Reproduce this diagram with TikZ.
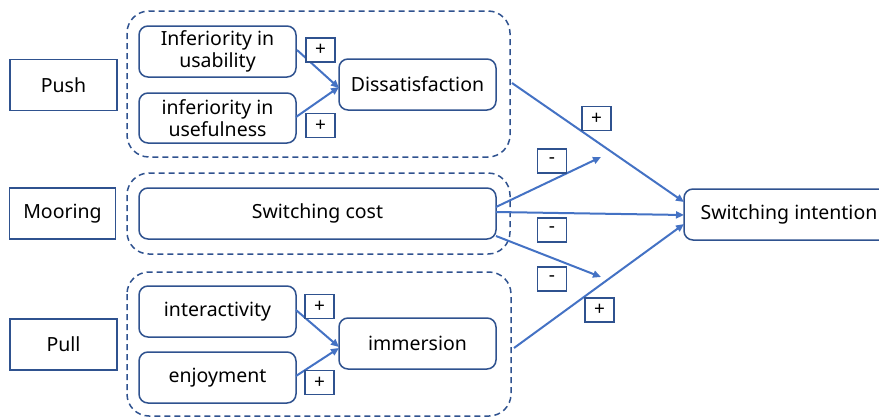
\documentclass[tikz,border=0pt]{standalone}
\usepackage{fontspec}
\setmainfont{Noto Sans}
\usetikzlibrary{arrows.meta}
\definecolor{boxc}{HTML}{2F528F}
\definecolor{arrc}{HTML}{4472C4}
\tikzset{
  sqbox/.style={draw=boxc, line width=1.5pt, fill=white, inner sep=0pt, align=center, font=\fontsize{19.5}{22}\selectfont},
  rbox/.style={sqbox, rounded corners=9pt},
  sign/.style={draw=boxc, line width=1.5pt, fill=white, inner sep=0pt, minimum width=29pt, minimum height=24pt, font=\fontsize{19}{19}\selectfont},
  grp/.style={draw=boxc, line width=1.5pt, dash pattern=on 6pt off 4pt, rounded corners=22pt},
  arr/.style={draw=arrc, line width=2pt, -{Triangle[length=8pt,width=7pt]}},
}
\begin{document}
\begin{tikzpicture}[x=1pt,y=-1pt]
\clip (0,0) rectangle (879,418);
\useasboundingbox (0,0) rectangle (879,418);
% groups
\draw[grp] (127,11) rectangle (510,157);
\draw[grp] (127,173) rectangle (510,254);
\draw[grp] (127,272) rectangle (511,416);
% category boxes
\node[sqbox, minimum width=107pt, minimum height=51pt] (push) at (63.5,85) {Push};
\node[sqbox, minimum width=106pt, minimum height=51pt] (moor) at (62.5,213.5) {Mooring};
\node[sqbox, minimum width=107pt, minimum height=51pt] (pull) at (63.5,344.5) {Pull};
% push
\node[rbox, minimum width=157pt, minimum height=51pt] (iu) at (217.5,51.5) {Inferiority in\\usability};
\node[rbox, minimum width=157pt, minimum height=50pt] (iuf) at (217.5,118) {inferiority in\\usefulness};
\node[rbox, minimum width=157pt, minimum height=51pt] (diss) at (417.5,84.5) {Dissatisfaction};
% mooring
\node[rbox, minimum width=357pt, minimum height=51pt] (sc) at (317.5,213.5) {Switching cost};
% pull
\node[rbox, minimum width=157pt, minimum height=51pt] (inter) at (217.5,311.5) {interactivity};
\node[rbox, minimum width=157pt, minimum height=51pt] (enj) at (217.5,377.5) {enjoyment};
\node[rbox, minimum width=157pt, minimum height=51pt] (imm) at (417.5,343.5) {immersion};
% outcome
\node[rbox, minimum width=210pt, minimum height=51pt] (si) at (789,214.5) {Switching intention};
% coordinates
\coordinate (dstart) at (512,83);
\coordinate (istart) at (514,348);
\coordinate (up) at (601,157);
\coordinate (dn) at (601,277);
\coordinate (iuE) at (297,50);
\coordinate (iufE) at (296,117);
\coordinate (intE) at (296,310);
\coordinate (enjE) at (296,376);
\coordinate (dW1) at (339,88);
\coordinate (dW2) at (339,87);
\coordinate (mW1) at (339,347);
\coordinate (mW2) at (339,348);
\coordinate (siA) at (684,202);
\coordinate (siB) at (684,215);
\coordinate (siC) at (684,224);
\coordinate (scA) at (496,207);
\coordinate (scB) at (496,212);
\coordinate (scC) at (496,236);
% arrows
\draw[arr] (iuE) -- (dW1);
\draw[arr] (iufE) -- (dW2);
\draw[arr] (intE) -- (mW1);
\draw[arr] (enjE) -- (mW2);
\draw[arr] (dstart) -- (siA);
\draw[arr] (scA) -- (up);
\draw[arr] (scB) -- (siB);
\draw[arr] (scC) -- (dn);
\draw[arr] (istart) -- (siC);
% signs
\node[sign] (p1) at (320.5,50) {+};
\node[sign] (p2) at (320.5,125.5) {+};
\node[sign] (p3) at (319.5,306.5) {+};
\node[sign] (p4) at (319.5,382.5) {+};
\node[sign] (p5) at (596.5,118.5) {+};
\node[sign] (m1) at (552,161) {-};
\node[sign] (m2) at (552,230) {-};
\node[sign] (m3) at (552,279) {-};
\node[sign] (p6) at (599.5,310) {+};
\end{tikzpicture}
\end{document}
